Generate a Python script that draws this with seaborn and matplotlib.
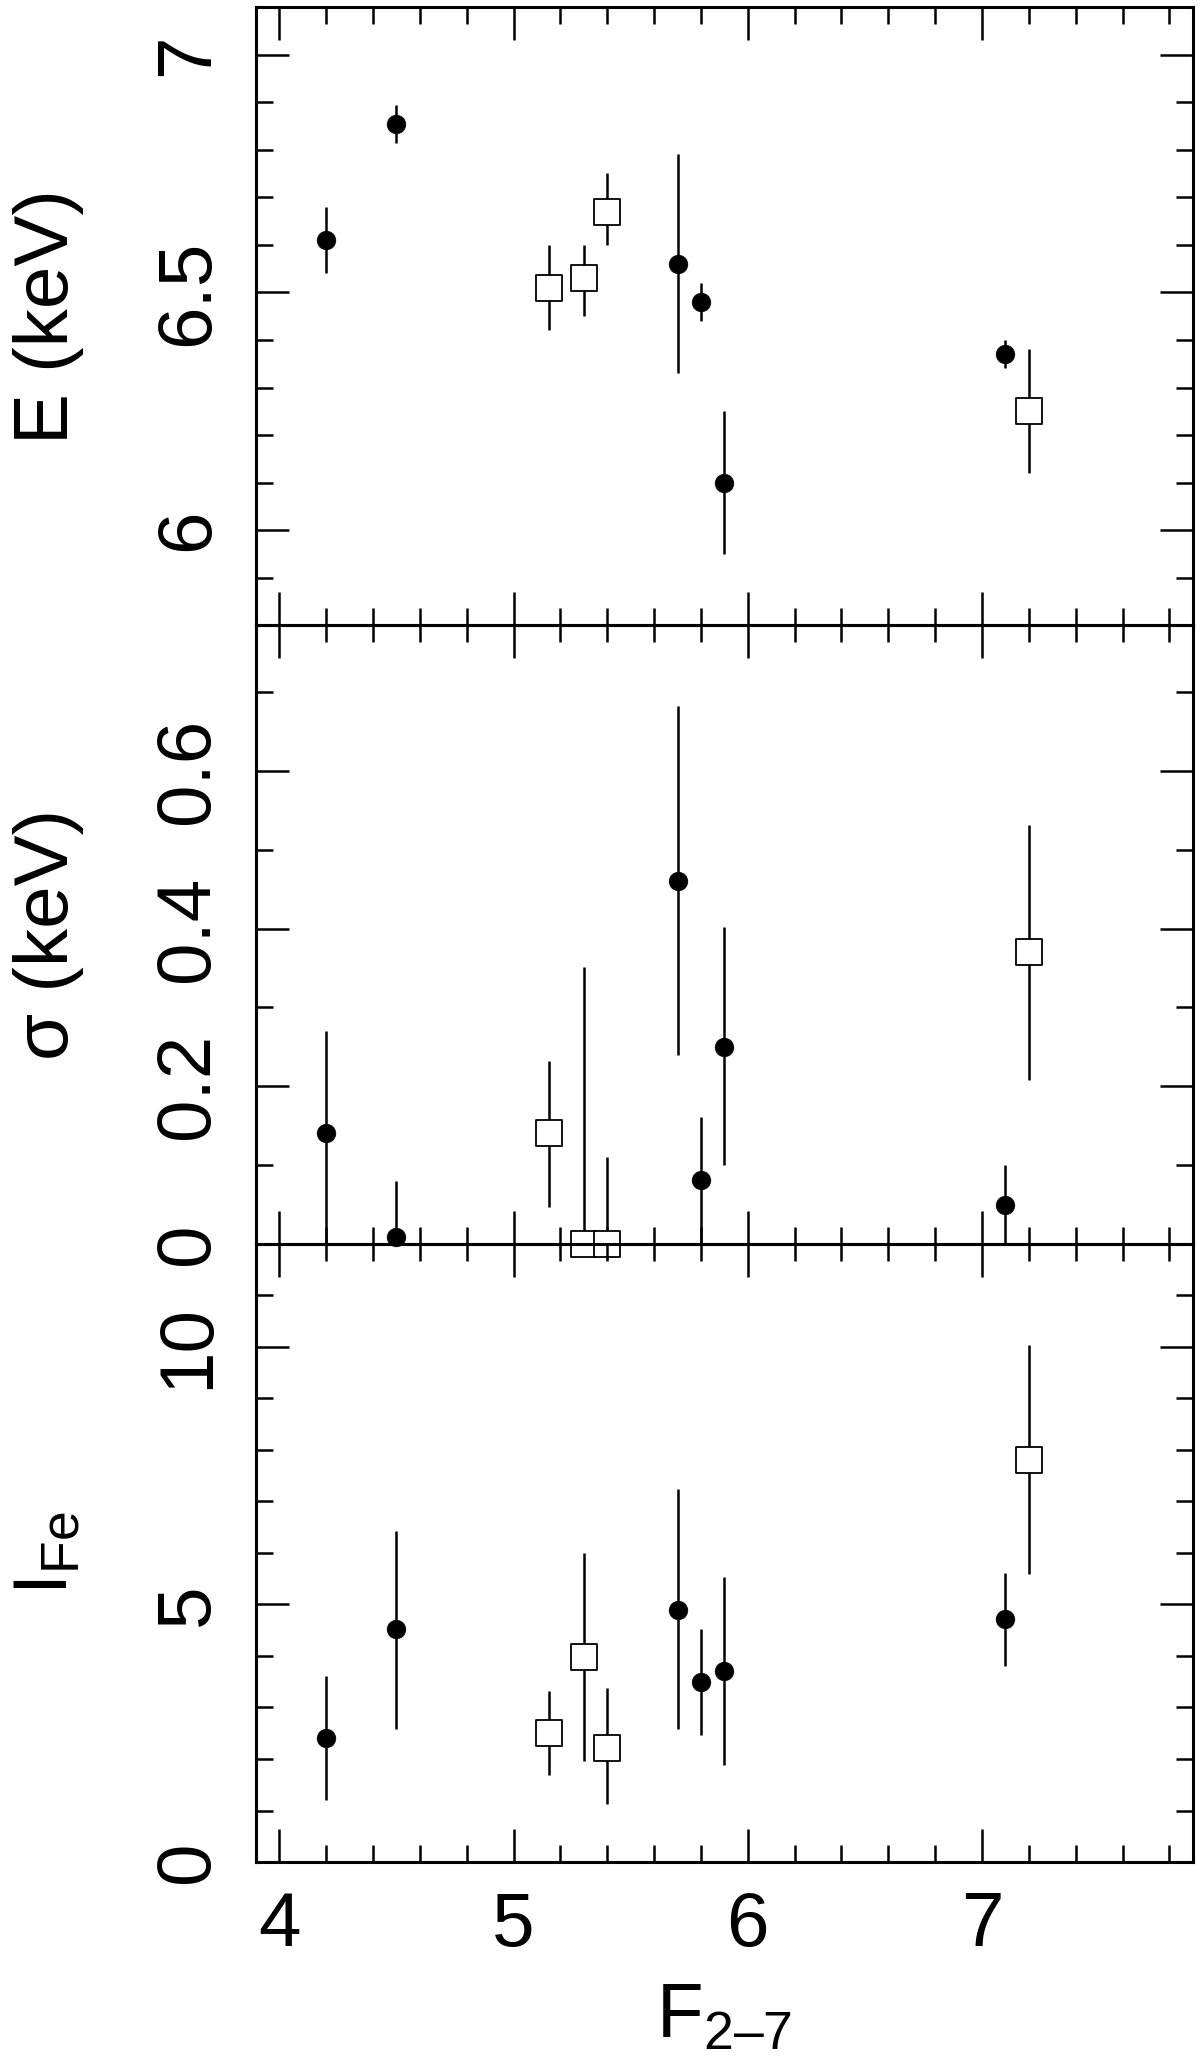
import matplotlib
matplotlib.use("Agg")
import matplotlib.pyplot as plt
import seaborn as sns
import pandas as pd
from matplotlib.ticker import MultipleLocator, FuncFormatter

# flux F(2-7) of each observation and the marker kind
F27  = [4.2, 4.5, 5.15, 5.3, 5.4, 5.7, 5.8, 5.9, 7.1, 7.2]
KIND = ["circle", "circle", "square", "square", "square",
        "circle", "circle", "circle", "circle", "square"]

# line energy (keV) with lower / upper bounds
E    = [6.61, 6.855, 6.51, 6.53, 6.67, 6.56, 6.48, 6.10, 6.37, 6.25]
E_LO = [6.54, 6.815, 6.42, 6.45, 6.60, 6.33, 6.44, 5.95, 6.34, 6.12]
E_HI = [6.68, 6.895, 6.60, 6.60, 6.75, 6.79, 6.52, 6.25, 6.40, 6.38]

# line width sigma (keV)
SIG    = [0.14, 0.008, 0.14, 0.0, 0.0, 0.46, 0.081, 0.25, 0.049, 0.37]
SIG_LO = [0.0, 0.0, 0.047, 0.0, -0.02, 0.24, 0.0, 0.10, 0.0, 0.208]
SIG_HI = [0.27, 0.08, 0.232, 0.351, 0.11, 0.682, 0.161, 0.402, 0.10, 0.531]

# line intensity
IFE    = [2.40, 4.52, 2.50, 3.98, 2.22, 4.90, 3.50, 3.70, 4.72, 7.81]
IFE_LO = [1.20, 2.58, 1.68, 1.96, 1.12, 2.58, 2.47, 1.89, 3.80, 5.59]
IFE_HI = [3.62, 6.43, 3.32, 5.99, 3.37, 7.24, 4.52, 5.54, 5.61, 10.03]

sns.set_style("ticks")
plt.rcParams["font.family"] = ["Liberation Sans", "DejaVu Sans"]
plt.rcParams["mathtext.fontset"] = "custom"
plt.rcParams["mathtext.rm"] = "Liberation Sans"
plt.rcParams["mathtext.it"] = "Liberation Sans:italic"
plt.rcParams["axes.linewidth"] = 2.2
plt.rcParams["text.color"] = "black"
plt.rcParams["axes.labelcolor"] = "black"
plt.rcParams["xtick.color"] = "black"
plt.rcParams["ytick.color"] = "black"
plt.rcParams["axes.edgecolor"] = "black"

FS = 55

fig, axes = plt.subplots(3, 1, figsize=(12, 20.6), dpi=100, sharex=True)
fig.subplots_adjust(left=0.2133, right=0.994, top=0.9966, bottom=0.0961, hspace=0)

paneles = [
    (E, E_LO, E_HI, "E (keV)", (5.8, 7.1), 0.5, 0.1),
    (SIG, SIG_LO, SIG_HI, "σ (keV)", (0.0, 0.785), 0.2, 0.1),
    (IFE, IFE_LO, IFE_HI, r"I$_{\rm Fe}$", (0.0, 12.0), 5, 1),
]

for ax, (val, lo, hi, etiqueta, lims, mayor, menor) in zip(axes, paneles):
    df = pd.DataFrame({"F": F27, "val": val, "lo": lo, "hi": hi, "kind": KIND})
    ax.patch.set_alpha(0)

    ax.vlines(df["F"], df["lo"], df["hi"], color="black", linewidth=1.8,
              zorder=2, clip_on=False)

    circ = df[df["kind"] == "circle"]
    sq = df[df["kind"] == "square"]
    sns.scatterplot(data=circ, x="F", y="val", ax=ax, marker="o", s=185,
                    color="black", edgecolor="black", linewidth=0.3,
                    zorder=3, clip_on=False)
    sns.scatterplot(data=sq, x="F", y="val", ax=ax, marker="s", s=340,
                    facecolor="white", edgecolor="black", linewidth=1.3,
                    zorder=3, clip_on=False)

    ax.set_xlim(3.9, 7.9)
    ax.set_ylim(*lims)
    ax.xaxis.set_major_locator(MultipleLocator(1))
    ax.xaxis.set_minor_locator(MultipleLocator(0.2))
    ax.yaxis.set_major_locator(MultipleLocator(mayor))
    ax.yaxis.set_minor_locator(MultipleLocator(menor))
    ax.yaxis.set_major_formatter(FuncFormatter(lambda v, p: f"{v:g}"))
    ax.xaxis.set_major_formatter(FuncFormatter(lambda v, p: f"{v:g}"))

    ax.tick_params(which="both", direction="in", top=True, right=True,
                   width=1.8, colors="black", labelsize=FS)
    ax.tick_params(which="major", length=24)
    ax.tick_params(which="minor", length=12)
    ax.tick_params(axis="y", labelrotation=90, pad=23)
    ax.tick_params(axis="x", pad=21)
    plt.setp(ax.get_yticklabels(), va="center")

    ax.set_ylabel(etiqueta, fontsize=FS, va="baseline", color="black")
    ax.yaxis.set_label_coords(-0.201, 0.5)

axes[2].set_xlabel(r"F$_{\rm 2–7}$", fontsize=FS, va="baseline", color="black")
axes[2].xaxis.set_label_coords(0.5, -0.283)

fig.savefig("out.png", dpi=100)
